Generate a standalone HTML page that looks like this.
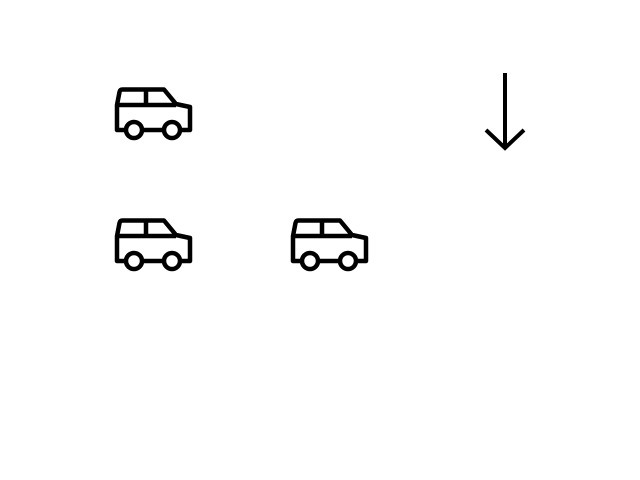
<!DOCTYPE html>
<html><head><meta charset="utf-8"><style>
html,body{margin:0;padding:0;background:#fff;width:640px;height:480px;overflow:hidden}
</style></head><body>
<svg width="640" height="480" viewBox="0 0 640 480">
<defs>
<g id="car" fill="none" stroke="#000" stroke-width="4.5" stroke-linejoin="round">
<path d="M125,130 H117 V105 L119.5,92 Q120,89.5 122.5,89.5 H164 L176,104 L190,107 V130 H181 M163,130 H143"/>
<path d="M117,105 H176 M146,89.5 V105"/>
<circle cx="134" cy="130" r="8"/>
<circle cx="172" cy="130" r="8"/>
</g>
</defs>
<use href="#car"/>
<use href="#car" transform="translate(0,131)"/>
<use href="#car" transform="translate(176,131)"/>
<g fill="none" stroke="#000" stroke-width="4">
<path d="M505,73 V148"/>
<path d="M486,130 L505,148 L524,130"/>
</g>
</svg>
</body></html>
